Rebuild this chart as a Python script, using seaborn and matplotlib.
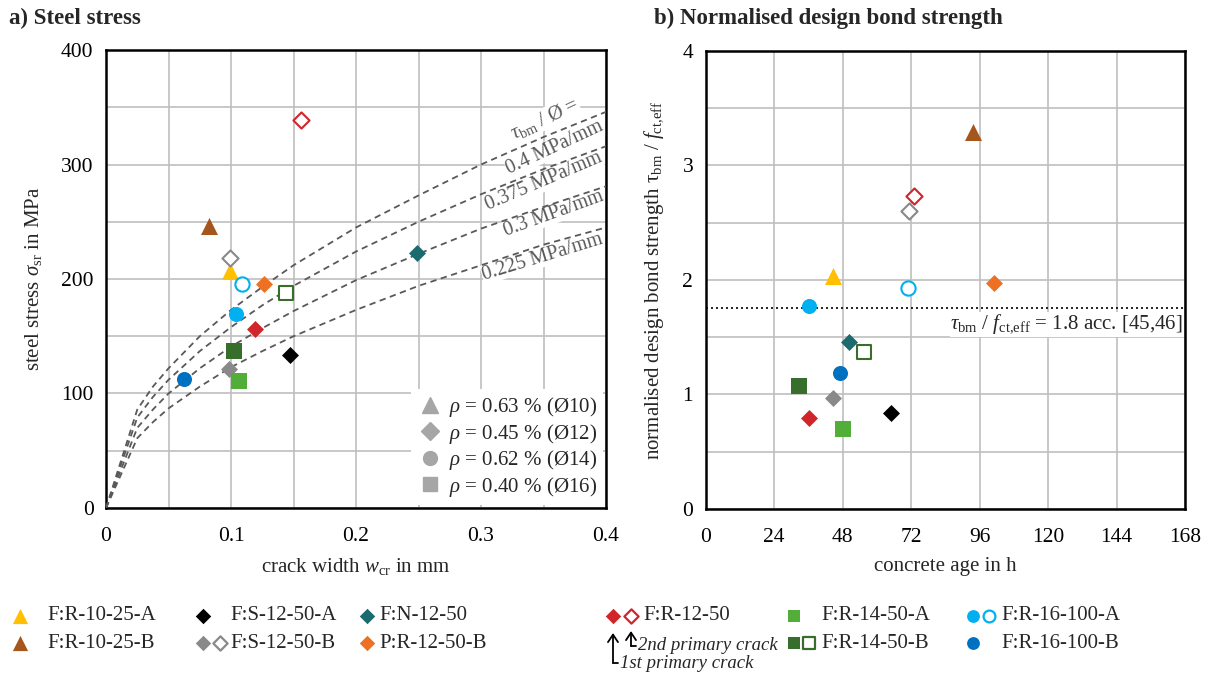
import seaborn as sns
import matplotlib.pyplot as plt
import numpy as np
from matplotlib.lines import Line2D

sns.set_theme(style='whitegrid')
plt.rcParams['font.family'] = ['Liberation Serif', 'DejaVu Serif']
plt.rcParams['mathtext.fontset'] = 'custom'
plt.rcParams['mathtext.rm'] = 'Liberation Serif'
plt.rcParams['mathtext.it'] = 'Liberation Serif:italic'
plt.rcParams['mathtext.bf'] = 'Liberation Serif:bold'

# specimens (one entry per plotted point)
specimen = ['F:R-10-25-A', 'F:R-10-25-B', 'F:S-12-50-A', 'F:S-12-50-B', 'F:S-12-50-B 2nd',
            'F:N-12-50', 'P:R-12-50-B', 'F:R-12-50', 'F:R-12-50 2nd', 'F:R-14-50-A',
            'F:R-14-50-B', 'F:R-14-50-B 2nd', 'F:R-16-100-A', 'F:R-16-100-A 2nd', 'F:R-16-100-B']
crack_width = [0.099, 0.082, 0.147, 0.098, 0.099, 0.249, 0.126, 0.119, 0.156, 0.106,
               0.102, 0.144, 0.104, 0.109, 0.062]
steel_stress = [207, 246, 134, 121, 218, 223, 196, 156, 339, 111, 137, 188, 169, 196, 113]
age_h = [44.7, 93.8, 65.0, 44.5, 71.3, 50.3, 101.1, 36.3, 73.0, 48.2, 32.8, 55.5, 36.2, 71.0, 47.1]
bond_ratio = [2.03, 3.29, 0.84, 0.97, 2.60, 1.455, 1.97, 0.79, 2.73, 0.70, 1.07, 1.37, 1.77, 1.93, 1.19]
colors = ['#ffc000', '#a5561c', '#000000', '#898989', '#898989', '#1b6b6e', '#ee7022', '#d0252b',
          '#d0252b', '#52ae38', '#386e2c', '#386e2c', '#00b0f0', '#00b0f0', '#0070c0']
markers = ['^', '^', 'D', 'D', 'D', 'D', 'D', 'D', 'D', 's', 's', 's', 'o', 'o', 'o']
filled = [True, True, True, True, False, True, True, True, False, True, True, False, True, False, True]

# model curves
curve_w = [0, 0.025, 0.0375, 0.05, 0.075, 0.1, 0.125, 0.15, 0.2, 0.25, 0.3, 0.35, 0.4]
curve_040 = [0, 86, 106, 122, 150, 173, 193, 212, 245, 273, 300, 324, 346]
curve_0375 = [0, 79, 97, 112, 137, 158, 177, 194, 224, 250, 274, 296, 316]
curve_030 = [0, 70, 86, 100, 122, 141, 157, 172, 199, 222, 244, 263, 281]
curve_0225 = [0, 61, 75, 87, 106, 123, 137, 150, 173, 194, 212, 230, 245]
curve_labels = [r'$\tau_{\rm bm}$ / Ø =', '0.4 MPa/mm', '0.375 MPa/mm', '0.3 MPa/mm', '0.225 MPa/mm']
label_w = [0.351, 0.359, 0.350, 0.358, 0.349]
label_s = [340, 315, 285, 257, 219]
label_rot = [25, 25, 23, 20, 17]

rho_labels = [r'$\rho$ = 0.63 % (Ø10)', r'$\rho$ = 0.45 % (Ø12)',
              r'$\rho$ = 0.62 % (Ø14)', r'$\rho$ = 0.40 % (Ø16)']
rho_markers = ['^', 'D', 'o', 's']

x1_ticks = [0, 0.1, 0.2, 0.3, 0.4]
x1_ticklabels = ['0', '0.1', '0.2', '0.3', '0.4']
x2_ticks = [0, 24, 48, 72, 96, 120, 144, 168]
design_limit = 1.75

sizes = {'^': 150, 'D': 75, 's': 117, 'o': 117}
grid_c = '#bfbfbf'
fs = 15

fig = plt.figure(figsize=(12.16, 6.74), dpi=100)
ax1 = fig.add_axes([0.0872, 0.2463, 0.4112, 0.6795])
ax2 = fig.add_axes([0.5803, 0.2448, 0.3942, 0.680])

for ax in (ax1, ax2):
    ax.set_facecolor('white')
    ax.grid(True, which='both', color=grid_c, lw=1.2)
    ax.set_axisbelow(True)
    for sp in ax.spines.values():
        sp.set_visible(True)
        sp.set_color('black')
        sp.set_linewidth(1.8)
    ax.tick_params(axis='both', which='both', length=0, labelsize=fs + 0.5, colors='black')
    ax.tick_params(axis='x', pad=14)
    ax.tick_params(axis='y', pad=9)

# ---- a) steel stress
for c in [curve_040, curve_0375, curve_030, curve_0225]:
    sns.lineplot(x=curve_w, y=c, ax=ax1, color='#595959', lw=1.3, zorder=3)
    ax1.lines[-1].set_dashes((3.5, 2.5))
for txt, w, s, r in zip(curve_labels, label_w, label_s, label_rot):
    ax1.text(w, s, txt, rotation=r, rotation_mode='anchor', ha='center', va='center',
             color='#595959', fontsize=14.5, zorder=2,
             bbox=dict(fc='white', ec='none', pad=0.3))

for x, y, c, m, f in zip(crack_width, steel_stress, colors, markers, filled):
    sns.scatterplot(x=[x], y=[y], ax=ax1, marker=m, s=sizes[m] if f else sizes[m] * 0.9,
                    color=c if f else 'white', edgecolor=c, linewidth=0 if f else 1.5, zorder=4)

ax1.set_xlim(0, 0.4)
ax1.set_ylim(0, 400)
ax1.set_xticks(x1_ticks)
ax1.set_xticklabels(x1_ticklabels)
ax1.set_xticks(np.arange(0.05, 0.4, 0.1), minor=True)
ax1.set_yticks(range(0, 401, 100))
ax1.set_yticks(range(50, 400, 100), minor=True)
ax1.set_xlabel(r'crack width $w_{\rm cr}$ in mm', fontsize=fs, labelpad=7)
ax1.set_ylabel(r'steel stress $\sigma_{\rm sr}$ in MPa', fontsize=fs, labelpad=12)

handles = [Line2D([], [], ls='none', marker=m, color='#a6a6a6',
                  markersize=12 if m == '^' else 10 if m != 'D' else 9)
           for m in rho_markers]
ax1.legend(handles, rho_labels, loc='lower right', fontsize=fs, frameon=True,
           facecolor='white', edgecolor='none', framealpha=1, fancybox=False,
           borderaxespad=0.15, borderpad=0.3, labelspacing=0.12, handletextpad=0.3,
           handlelength=1.2)

# ---- b) normalised bond strength
ax2.axhline(design_limit, color='black', lw=1.2, dashes=(1.2, 1.8), zorder=3)
ax2.text(167.3, 1.61, r'$\tau_{\rm bm}$ / $f_{\rm ct{,}eff}$ = 1.8 acc. [45,46]', ha='right', va='center',
         fontsize=fs, zorder=2, bbox=dict(fc='white', ec='none', pad=0.5))
for x, y, c, m, f in zip(age_h, bond_ratio, colors, markers, filled):
    sns.scatterplot(x=[x], y=[y], ax=ax2, marker=m, s=sizes[m] if f else sizes[m] * 0.9,
                    color=c if f else 'white', edgecolor=c, linewidth=0 if f else 1.5, zorder=4)
ax2.set_xlim(0, 168)
ax2.set_ylim(0, 4)
ax2.set_xticks(x2_ticks)
ax2.set_yticks(range(0, 5))
ax2.set_yticks(np.arange(0.5, 4, 1), minor=True)
ax2.set_xlabel('concrete age in h', fontsize=fs, labelpad=7)
ax2.set_ylabel(r'normalised design bond strength τ$_{\rm bm}$ / $f_{\rm ct{,}eff}$', fontsize=fs, labelpad=12)

fig.text(0.007, 0.972, 'a) Steel stress', fontsize=16.5, fontweight='bold', va='center')
fig.text(0.538, 0.972, 'b) Normalised design bond strength', fontsize=16.5, fontweight='bold', va='center')

# ---- legend below the charts (pixel layout)
lax = fig.add_axes([0, 0, 1, 1], zorder=-1)
lax.set_xlim(0, 1216)
lax.set_ylim(674, 0)
lax.axis('off')
leg_items = [
    # (marker x positions, specimen indices, text x, text y, label)
    ([20], [0], 47, 616, 'F:R-10-25-A'),
    ([20], [1], 47, 643, 'F:R-10-25-B'),
    ([203], [2], 230, 616, 'F:S-12-50-A'),
    ([203, 220], [3, 4], 230, 643, 'F:S-12-50-B'),
    ([367], [5], 379, 616, 'F:N-12-50'),
    ([367], [6], 379, 643, 'P:R-12-50-B'),
    ([613, 631], [7, 8], 643, 616, 'F:R-12-50'),
    ([794], [9], 821, 616, 'F:R-14-50-A'),
    ([794, 809], [10, 11], 821, 643, 'F:R-14-50-B'),
    ([973, 989], [12, 13], 1001, 616, 'F:R-16-100-A'),
    ([973], [14], 1001, 643, 'F:R-16-100-B'),
]
leg_sizes = {'^': 120, 'D': 62, 's': 85, 'o': 85}
for xs, idx, tx, ty, lab in leg_items:
    for px, i in zip(xs, idx):
        m = markers[i]
        f = filled[i]
        lax.scatter([px], [ty], marker=m, s=leg_sizes[m] if f else leg_sizes[m] * 0.85,
                    color=colors[i] if f else 'white', edgecolor=colors[i], linewidth=0 if f else 1.6)
    lax.text(tx, ty, lab, fontsize=fs, va='center', ha='left')

for px, tip, bot, lab in [(613, 633, 663, '1st primary crack'), (631, 631, 646, '2nd primary crack')]:
    lax.annotate('', xy=(px, tip), xytext=(px, bot),
                 arrowprops=dict(arrowstyle='->,head_length=0.45,head_width=0.3', lw=1.3,
                                 color='black', shrinkA=0, shrinkB=0))
    lax.plot([px, px + 5], [bot, bot], color='black', lw=1.3)
    lax.text(px + 7, bot, lab, fontsize=13.5, style='italic', va='center', ha='left')

fig.savefig('out.png', dpi=100)
